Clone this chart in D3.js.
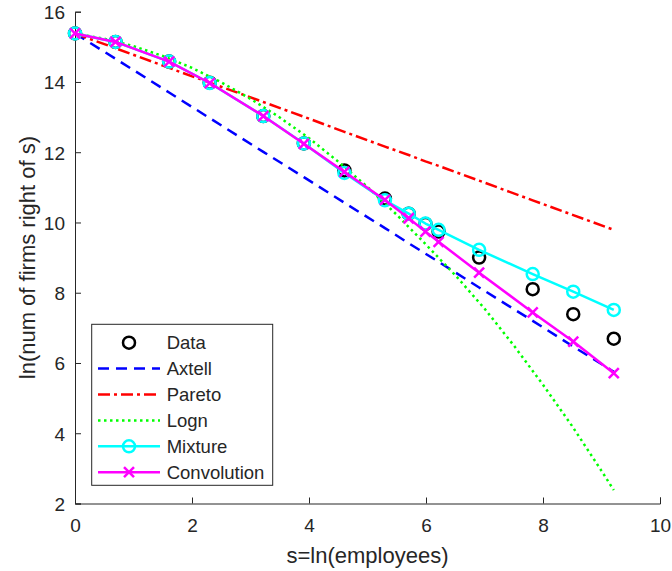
<!DOCTYPE html>
<html><head><meta charset="utf-8">
<script src="https://cdn.jsdelivr.net/npm/d3@7"></script>
<style>body{margin:0;background:#fff}svg{display:block}text{font-family:"Liberation Sans",Arial,sans-serif;fill:#262626}</style>
</head><body><svg id="c" width="672" height="571"></svg>
<script>
const sVals = [0, 0.693, 1.609, 2.303, 3.219, 3.912, 4.605, 5.298, 5.704, 5.991, 6.215, 6.908, 7.824, 8.517, 9.210];
const dataY = [15.38, 15.14, 14.58, 13.98, 13.03, 12.25, 11.48, 10.68, 10.25, 9.96, 9.74, 9.00, 8.10, 7.39, 6.69];
const axtellY = [15.38, 14.66, 13.70, 12.97, 12.01, 11.29, 10.56, 9.84, 9.41, 9.11, 8.88, 8.15, 7.20, 6.47, 5.75];
const paretoY = [15.38, 14.96, 14.40, 13.98, 13.43, 13.01, 12.58, 12.16, 11.92, 11.74, 11.61, 11.19, 10.63, 10.21, 9.79];
const lognS = [0, 0.5, 1, 1.5, 2, 2.5, 3, 3.5, 4, 4.5, 5, 5.5, 6, 6.5, 7, 7.5, 8, 8.5, 9, 9.21];
const lognY = [15.38, 15.23, 15.02, 14.74, 14.40, 13.99, 13.52, 12.99, 12.40, 11.73, 11.01, 10.22, 9.37, 8.50, 7.55, 6.50, 5.38, 4.20, 2.93, 2.38];
const mixtureY = [15.38, 15.14, 14.58, 13.97, 13.03, 12.25, 11.41, 10.63, 10.25, 9.97, 9.79, 9.22, 8.53, 8.03, 7.51];
const convolutionY = [15.38, 15.14, 14.58, 13.97, 13.03, 12.24, 11.44, 10.64, 10.12, 9.74, 9.45, 8.57, 7.44, 6.61, 5.71];
const xTicks = [0, 2, 4, 6, 8, 10];
const yTicks = [2, 4, 6, 8, 10, 12, 14, 16];
const legendLabels = ["Data", "Axtell", "Pareto", "Logn", "Mixture", "Convolution"];

const svg = d3.select("#c");
const L = 75, R = 660, T = 11.7, B = 503.5;
const x = d3.scaleLinear().domain([0, 10]).range([L, R]);
const y = d3.scaleLinear().domain([2, 16]).range([B, T]);
const axisCol = "#262626";

const xAxis = svg.append("g").attr("transform", `translate(0,${B})`)
  .call(d3.axisBottom(x).tickValues(xTicks).tickSize(-6).tickPadding(15).tickFormat(d3.format("d")));
const yAxis = svg.append("g").attr("transform", `translate(${L},0)`)
  .call(d3.axisLeft(y).tickValues(yTicks).tickSize(-6).tickPadding(10).tickFormat(d3.format("d")));
[xAxis, yAxis].forEach(g => {
  g.select(".domain").attr("stroke", axisCol).attr("stroke-width", 1);
  g.selectAll(".tick line").attr("stroke", axisCol).attr("stroke-width", 1);
  g.selectAll(".tick text").attr("fill", axisCol).style("font-size", "19px").style("font-family", '"Liberation Sans",Arial,sans-serif');
});
xAxis.selectAll(".tick text").attr("dy", "0.71em");
yAxis.selectAll(".tick text").attr("dy", "0.36em");

svg.append("text").attr("x", (L + R) / 2).attr("y", 563).attr("text-anchor", "middle")
  .style("font-size", "22px").text("s=ln(employees)");
svg.append("text").attr("transform", `translate(35,${(T + B) / 2}) rotate(-90)`).attr("text-anchor", "middle")
  .style("font-size", "22px").text("ln(num of firms right of s)");

const line = d3.line().x(d => x(d[0])).y(d => y(d[1]));
const zip = (a, b) => a.map((v, i) => [v, b[i]]);

const styles = {
  Axtell: {color: "#0000ff", dash: "11,7", w: 2.5},
  Pareto: {color: "#ff0000", dash: "12,4,3,4", w: 2.5},
  Logn: {color: "#00ff00", dash: "2.5,3.5", w: 2.5},
  Mixture: {color: "#00ffff", dash: null, w: 2.5},
  Convolution: {color: "#ff00ff", dash: null, w: 2.5}
};

function circleM(g, cx, cy, col) {
  g.append("circle").attr("cx", cx).attr("cy", cy).attr("r", 6).attr("fill", "none").attr("stroke", col).attr("stroke-width", 2.5);
}
function crossM(g, cx, cy, col) {
  const s = 5;
  g.append("path").attr("d", `M${cx - s},${cy - s}L${cx + s},${cy + s}M${cx - s},${cy + s}L${cx + s},${cy - s}`)
    .attr("stroke", col).attr("stroke-width", 2.5).attr("fill", "none");
}

const plot = svg.append("g");
zip(sVals, dataY).forEach(d => circleM(plot, x(d[0]), y(d[1]), "#000"));
[["Axtell", zip(sVals, axtellY)], ["Pareto", zip(sVals, paretoY)], ["Logn", zip(lognS, lognY)],
 ["Mixture", zip(sVals, mixtureY)], ["Convolution", zip(sVals, convolutionY)]].forEach(([k, pts]) => {
  const st = styles[k];
  plot.append("path").attr("d", line(pts)).attr("fill", "none").attr("stroke", st.color)
    .attr("stroke-width", st.w).attr("stroke-dasharray", st.dash).attr("stroke-linejoin", "round");
  if (k === "Mixture") pts.forEach(d => circleM(plot, x(d[0]), y(d[1]), st.color));
  if (k === "Convolution") pts.forEach(d => crossM(plot, x(d[0]), y(d[1]), st.color));
});

const lg = svg.append("g");
lg.append("rect").attr("x", 91.7).attr("y", 324.3).attr("width", 181).attr("height", 161)
  .attr("fill", "#fff").attr("stroke", "#262626").attr("stroke-width", 1);
legendLabels.forEach((lab, i) => {
  const cy = 342.7 + i * 25.9;
  if (lab === "Data") circleM(lg, 129, cy, "#000");
  else {
    const st = styles[lab];
    lg.append("line").attr("x1", 98).attr("x2", 160).attr("y1", cy).attr("y2", cy)
      .attr("stroke", st.color).attr("stroke-width", st.w).attr("stroke-dasharray", st.dash);
    if (lab === "Mixture") circleM(lg, 129, cy, st.color);
    if (lab === "Convolution") crossM(lg, 129, cy, st.color);
  }
  lg.append("text").attr("x", 166.7).attr("y", cy).attr("dy", "0.36em").style("font-size", "18.5px").text(lab);
});
</script></body></html>
